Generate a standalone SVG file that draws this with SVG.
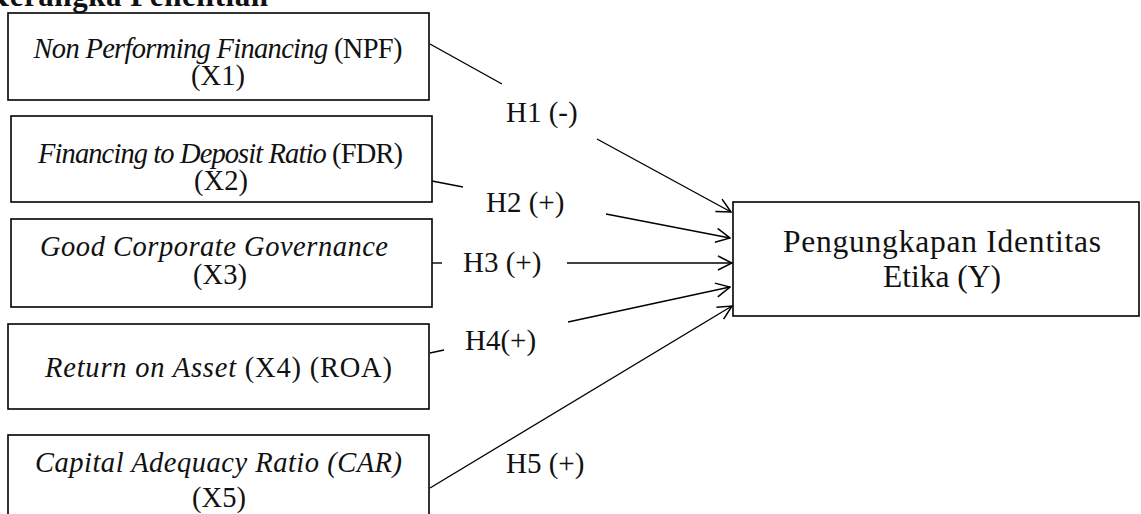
<svg xmlns="http://www.w3.org/2000/svg" width="1141" height="514" viewBox="0 0 1141 514">
<style>
.box{fill:#fff;stroke:#000;stroke-width:1.6}
.t{font-family:"Liberation Serif","Times New Roman",serif;font-size:28.5px;fill:#111}
.ty{font-family:"Liberation Serif","Times New Roman",serif;font-size:31.5px;fill:#111}
.h{font-family:"Liberation Serif","Times New Roman",serif;font-size:29px;fill:#111}
.i{font-style:italic}
.c{fill:none;stroke:#000;stroke-width:1.4}
</style>
<defs>
<marker id="arr" viewBox="0 0 16 16" refX="15" refY="8" markerWidth="16" markerHeight="16" markerUnits="userSpaceOnUse" orient="auto">
<path d="M1,1 L15,8 L1,15" fill="none" stroke="#000" stroke-width="1.5"/>
</marker>
</defs>
<rect width="1141" height="514" fill="#fff"/>
<text x="-15" y="6" textLength="283" style="font-family:'Liberation Serif','Times New Roman',serif;font-size:31px;font-weight:bold;fill:#111">Kerangka Penelitian</text>

<g id="connectors">
<path class="c" d="M430,44 L502,84"/>
<path class="c" d="M597,139 L731,212" marker-end="url(#arr)"/>
<path class="c" d="M432,181 L463,187"/>
<path class="c" d="M606,214 L730,238" marker-end="url(#arr)"/>
<path class="c" d="M432,263 L442,263"/>
<path class="c" d="M567,263 L732,263" marker-end="url(#arr)"/>
<path class="c" d="M430,353 L444,350"/>
<path class="c" d="M568,322 L730,287" marker-end="url(#arr)"/>
<path class="c" d="M430,488 L732,306" marker-end="url(#arr)"/>
</g>

<g id="n1">
<rect class="box" x="8" y="13" width="421" height="87"/>
<text class="t" x="218" y="58" text-anchor="middle" textLength="369"><tspan class="i">Non Performing Financing</tspan> (NPF)</text>
<text class="t" x="218" y="85" text-anchor="middle">(X1)</text>
</g>
<g id="n2">
<rect class="box" x="11" y="116" width="421" height="86"/>
<text class="t" x="220.5" y="163" text-anchor="middle" textLength="365"><tspan class="i">Financing to Deposit Ratio</tspan> (FDR)</text>
<text class="t" x="221" y="190" text-anchor="middle">(X2)</text>
</g>
<g id="n3">
<rect class="box" x="11" y="219" width="421" height="88"/>
<text class="t i" x="214" y="256" text-anchor="middle" textLength="348">Good Corporate Governance</text>
<text class="t" x="220" y="284" text-anchor="middle">(X3)</text>
</g>
<g id="n4">
<rect class="box" x="8" y="324" width="421" height="85"/>
<text class="t" x="218.5" y="377" text-anchor="middle" textLength="347"><tspan class="i">Return on Asset</tspan> (X4) (ROA)</text>
</g>
<g id="n5">
<rect class="box" x="8" y="435" width="421" height="100"/>
<text class="t i" x="218.5" y="472" text-anchor="middle" textLength="367">Capital Adequacy Ratio (CAR)</text>
<text class="t" x="219" y="507" text-anchor="middle">(X5)</text>
</g>
<g id="ny">
<rect class="box" x="733" y="202" width="406" height="114"/>
<text class="ty" x="942" y="252" text-anchor="middle" textLength="318">Pengungkapan Identitas</text>
<text class="ty" x="942" y="287" text-anchor="middle">Etika (Y)</text>
</g>

<g id="labels">
<text class="h" x="506" y="122">H1 (-)</text>
<text class="h" x="486" y="212">H2 (+)</text>
<text class="h" x="463" y="272">H3 (+)</text>
<text class="h" x="465" y="350">H4(+)</text>
<text class="h" x="506" y="473">H5 (+)</text>
</g>
</svg>
